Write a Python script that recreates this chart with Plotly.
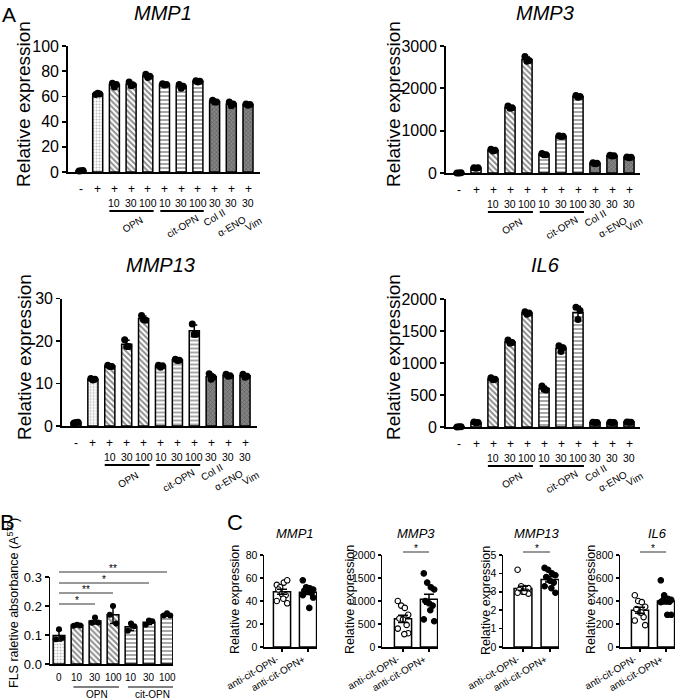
import numpy as np
import plotly.graph_objects as go

W, H = 685, 700
FONT = "Arial, Liberation Sans, sans-serif"

# ---------------- data ----------------
a_tnf = ['-', '+', '+', '+', '+', '+', '+', '+', '+', '+', '+']
a_dose = ['', '', '10', '30', '100', '10', '30', '100', '30', '30', '30']
a_groups = ['OPN', 'cit-OPN', 'Col II', 'α-ENO', 'Vim']
a_kind = ['ctrl', 'tnf', 'opn', 'opn', 'opn', 'cit', 'cit', 'cit', 'ag', 'ag', 'ag']

mmp1_reps = [[0.8, 1.0, 1.2], [61.5, 62.5, 62], [70.5, 67.5, 69.5], [71.5, 68.5, 69],
             [77.5, 75, 76], [70, 69, 69.5], [69.5, 66.5, 68], [72.5, 71.5, 72],
             [57, 55.5, 55.5], [55.5, 52.5, 54], [54, 53, 53.5]]
mmp3_reps = [[0, 2, 4], [125, 110, 125], [560, 520, 540], [1580, 1530, 1540],
             [2750, 2640, 2660], [460, 430, 430], [880, 860, 870], [1830, 1790, 1810],
             [240, 220, 230], [420, 400, 410], [380, 360, 370]]
mmp13_reps = [[0.7, 0.8, 0.9], [11.2, 10.8, 11.0], [14.3, 14.0, 14.0], [20.3, 18.7, 18.7],
              [26.0, 25.0, 24.9], [14.3, 13.8, 14.2], [15.7, 15.4, 15.5], [24.0, 21.6, 21.6],
              [12.3, 11.0, 11.5], [12.2, 11.7, 11.8], [12.2, 11.5, 11.7]]
il6_reps = [[0, 3, 5], [80, 65, 70], [770, 740, 745], [1360, 1310, 1320],
            [1800, 1760, 1780], [640, 590, 580], [1270, 1180, 1240], [1870, 1680, 1820],
            [75, 70, 70], [75, 70, 70], [80, 75, 75]]

b_dose = ['0', '10', '30', '100', '10', '30', '100']
b_kind = ['tnf', 'opn', 'opn', 'opn', 'cit', 'cit', 'cit']
b_reps = [[0.12, 0.085, 0.09], [0.135, 0.132, 0.133], [0.16, 0.142, 0.143],
          [0.20, 0.17, 0.14], [0.14, 0.115, 0.13], [0.15, 0.135, 0.147],
          [0.175, 0.167, 0.167]]
b_comparisons = [(0, 2, '*'), (0, 3, '**'), (0, 5, '*'), (0, 6, '**')]

c_groups = ['anti-cit-OPN-', 'anti-cit-OPN+']
c_genes = ['MMP1', 'MMP3', 'MMP13', 'IL6']
c_neg = [[54, 52, 56, 58, 50, 46, 45, 40, 38, 42],
         [1000, 900, 850, 700, 620, 600, 480, 400, 300, 280],
         [4.2, 3.3, 3.2, 3.2, 3.1, 3.0, 3.0, 2.95, 2.9, 3.0],
         [450, 400, 390, 350, 330, 300, 260, 230, 190, 300]]
c_pos = [[58, 52, 51, 50, 49, 48, 47, 45, 43, 34],
         [1600, 1400, 1300, 1250, 1000, 950, 900, 600, 560, 800],
         [4.3, 4.2, 4.0, 3.9, 3.8, 3.6, 3.5, 3.3, 2.95, 3.2],
         [580, 450, 420, 410, 400, 400, 395, 390, 280, 280]]
c_sig = ['', '*', '*', '*']

# ---------------- style ----------------
STYLE = {
    'ctrl': dict(shape='', bg='white', fg='black', size=4, sol=0.3),
    'tnf': dict(shape='.', bg='white', fg='#7a7a7a', size=3, sol=0.35),
    'opn': dict(shape='\\', bg='white', fg='#1a1a1a', size=4, sol=0.48),
    'cit': dict(shape='-', bg='white', fg='#1a1a1a', size=4, sol=0.38),
    'ag': dict(shape='x', bg='#858585', fg='#2a2a2a', size=3, sol=0.35),
}


def P(py):
    return 1 - py / H


def X(px):
    return px / W


def axn(i):
    return '' if i == 1 else str(i)


fig = go.Figure()
layout = {}
annotations = []
shapes = []


def ann(text, x, y, xref='paper', size=10, **kw):
    d = dict(text=text, x=x, y=y, xref=xref, yref='paper', showarrow=False,
             xanchor='center', yanchor='middle',
             font=dict(size=size, color='black', family=FONT))
    fnt = kw.pop('font', None)
    if fnt:
        d['font'].update(fnt)
    d.update(kw)
    annotations.append(d)


def hline(xref, x0, x1, py, width=1.5, color='black'):
    shapes.append(dict(type='line', xref=xref, yref='paper', x0=x0, x1=x1,
                       y0=P(py), y1=P(py), line=dict(color=color, width=width)))


def setup_axes(i, spec, n, yrange, dtick, tickfont, lw, ticklen=4, xticks=False,
               tickformat=None):
    left, right, first, last, y0, ytop = spec
    sp = (last - first) / (n - 1)
    xr = [-(first - left) / sp, (n - 1) + (right - last) / sp]
    layout['xaxis' + axn(i)] = dict(
        domain=[X(left), X(right)], range=xr, anchor='y' + axn(i), automargin=False,
        showline=True, linecolor='black', linewidth=lw, showgrid=False, zeroline=False,
        ticks='outside' if xticks else '', ticklen=ticklen, tickwidth=lw, tickcolor='black',
        tickvals=list(range(n)) if xticks else [], showticklabels=False, fixedrange=True)
    yd = dict(
        domain=[P(y0), P(ytop)], range=yrange, anchor='x' + axn(i), dtick=dtick,
        automargin=False,
        showline=True, linecolor='black', linewidth=lw, showgrid=False, zeroline=False,
        ticks='outside', ticklen=ticklen, tickwidth=lw, tickcolor='black',
        tickfont=dict(size=tickfont, color='black', family=FONT), fixedrange=True)
    if tickformat:
        yd['tickformat'] = tickformat
    layout['yaxis' + axn(i)] = yd


def pattern_bars(i, means, sds, kinds, width, lw):
    for kind in dict.fromkeys(kinds):
        st = STYLE[kind]
        idx = [k for k, kk in enumerate(kinds) if kk == kind]
        fig.add_trace(go.Bar(
            x=idx, y=[means[k] for k in idx], width=width,
            xaxis='x' + axn(i), yaxis='y' + axn(i),
            marker=dict(
                color=st['bg'],
                line=dict(color='black', width=lw),
                pattern=dict(shape=st['shape'], fgcolor=st['fg'], bgcolor=st['bg'],
                             size=st['size'], solidity=st['sol'], fillmode='overlay')),
            error_y=dict(type='data', array=[sds[k] for k in idx], color='black',
                         thickness=1.5, width=3),
            showlegend=False, hoverinfo='skip'))


def rep_points(i, reps, offsets, size):
    xs, ys = [], []
    for k, r in enumerate(reps):
        for j, v in enumerate(r):
            xs.append(k + offsets[j % len(offsets)])
            ys.append(v)
    fig.add_trace(go.Scatter(
        x=xs, y=ys, mode='markers', xaxis='x' + axn(i), yaxis='y' + axn(i),
        marker=dict(color='black', size=size), cliponaxis=False,
        showlegend=False, hoverinfo='skip'))


# ---------------- panel A ----------------
a_panels = [
    ('MMP1', mmp1_reps, (68, 260, 81, 248, 172, 46), [0, 100], 20, (163, 13), (23, 104)),
    ('MMP3', mmp3_reps, (446, 640, 459, 629, 173, 46), [0, 3000], 1000, (545, 13), (393, 104)),
    ('MMP13', mmp13_reps, (62, 257, 76, 245, 426, 298.5), [0, 30], 10, (160, 265), (24, 357)),
    ('IL6', il6_reps, (446, 640, 459, 629, 427, 299), [0, 2000], 500, (545, 265), (393, 357)),
]
group_pos = [(3.1, 53), (6.05, 54), (8.0, 46), (9.0, 54), (10.3, 52)]

for idx, (title, reps, spec, yr, dt, tpos, ytpos) in enumerate(a_panels):
    i = idx + 1
    xref = 'x' + axn(i)
    n = len(reps)
    setup_axes(i, spec, n, yr, dt, 16, 1.8, ticklen=4)
    means = [float(np.mean(r)) for r in reps]
    sds = [float(np.std(r, ddof=1)) for r in reps]
    pattern_bars(i, means, sds, a_kind, 0.6, 1.5)
    rep_points(i, reps, [-0.12, 0.0, 0.12], 7)
    y0 = spec[4]
    ann('TNF', -1.65, P(y0 + 17), xref=xref, size=11)
    for k, s in enumerate(a_tnf):
        ann(s, k, P(y0 + 17), xref=xref, size=12)
    for k, d in enumerate(a_dose):
        if d:
            ann(d, k, P(y0 + 31), xref=xref, size=10.5)
    ann('(ng/ml)', 11.7, P(y0 + 31), xref=xref, size=10)
    hline(xref, 1.7, 4.35, y0 + 39, width=1.8)
    hline(xref, 4.75, 7.35, y0 + 39, width=1.8)
    for g, (gx, gdy) in zip(a_groups, group_pos):
        ann(g, gx, P(y0 + gdy), xref=xref, size=10, textangle=-30)
    ann(title, X(tpos[0]), P(tpos[1]), size=20, font=dict(style='italic'))
    ann('Relative expression', X(ytpos[0]), P(ytpos[1]), size=19, textangle=-90)

ann('A', X(9), P(14), size=21)

# ---------------- panel B ----------------
b_spec = (50, 173, 59, 167, 664, 577)
setup_axes(5, b_spec, 7, [0, 0.3], 0.1, 13, 1.5, ticklen=4, tickformat='.1f')
b_means = [float(np.mean(r)) for r in b_reps]
b_sds = [float(np.std(r, ddof=1)) for r in b_reps]
pattern_bars(5, b_means, b_sds, b_kind, 0.65, 1.5)
rep_points(5, b_reps, [0.0, -0.18, 0.18], 6)
for k, d in enumerate(b_dose):
    ann(d, k, P(677), xref='x5', size=10)
ann('(ng/ml)', 7.6, P(677), xref='x5', size=10)
hline('x5', 0.8, 3.33, 687, width=1.2)
hline('x5', 3.83, 6.44, 687, width=1.2)
ann('OPN', 2.1, P(694), xref='x5', size=10)
ann('cit-OPN', 5.2, P(694), xref='x5', size=10)
sig_y = [604, 593, 583, 572]
for (a, b, s), py in zip(b_comparisons, sig_y):
    hline('x5', a, b, py, width=1, color='#333333')
    ann(s, (a + b) / 2, P(py - 4), xref='x5', size=10)
ann('FLS raletive absorbance (A<sup>570</sup>)', X(13), P(603), size=12.5, textangle=-90)
ann('B', X(8), P(522), size=22)

# ---------------- panel C ----------------
c_specs = [(264, 317, 282, 308, 647, 555), (382, 438, 403, 429, 647, 555),
           (503, 559, 523, 550, 647, 555), (620, 675, 640, 666, 647, 555)]
c_ranges = [([0, 80], 20), ([0, 2000], 500), ([0, 5], 1), ([0, 800], 200)]
c_title_x = [295, 416, 537, 657]
c_ytitle_x = [235, 350, 486, 591]
c_offsets = [-0.2, -0.07, 0.07, 0.2, -0.14, 0.0, 0.14, -0.2, 0.2, 0.05]

for j in range(4):
    i = 6 + j
    xref = 'x' + axn(i)
    setup_axes(i, c_specs[j], 2, c_ranges[j][0], c_ranges[j][1], 10.5, 1.5, ticklen=3,
               xticks=True)
    groups = [c_neg[j], c_pos[j]]
    means = [float(np.mean(g)) for g in groups]
    sems = [float(np.std(g, ddof=1) / np.sqrt(len(g))) for g in groups]
    fig.add_trace(go.Bar(
        x=[0, 1], y=means, width=0.66, xaxis=xref, yaxis='y' + axn(i),
        marker=dict(color='white', line=dict(color='black', width=1.5)),
        showlegend=False, hoverinfo='skip'))
    for k, g in enumerate(groups):
        fig.add_trace(go.Scatter(
            x=[k + c_offsets[m] for m in range(len(g))], y=g, mode='markers',
            xaxis=xref, yaxis='y' + axn(i), cliponaxis=False,
            marker=dict(size=5.5, color='white' if k == 0 else 'black',
                        line=dict(color='black', width=1.1)),
            showlegend=False, hoverinfo='skip'))
    fig.add_trace(go.Scatter(
        x=[0, 1], y=means, mode='markers', xaxis=xref, yaxis='y' + axn(i),
        marker=dict(size=1, color='rgba(0,0,0,0)'),
        error_y=dict(type='data', array=sems, color='black', thickness=1.5, width=5),
        cliponaxis=False, showlegend=False, hoverinfo='skip'))
    for k, g in enumerate(c_groups):
        ann(g, k + 0.05, P(651), xref=xref, size=10, textangle=-30,
            xanchor='right', yanchor='top')
    if c_sig[j]:
        hline(xref, 0, 1, 552, width=1, color='#333333')
        ann(c_sig[j], 0.5, P(548), xref=xref, size=10)
    ann(c_genes[j], X(c_title_x[j]), P(533), size=13, font=dict(style='italic'))
    ann('Relative expression', X(c_ytitle_x[j]), P(600), size=12.5, textangle=-90)

ann('C', X(235), P(522), size=22)

fig.update_layout(
    template='none',
    width=W, height=H, margin=dict(l=0, r=0, t=0, b=0, autoexpand=False),
    paper_bgcolor='white', plot_bgcolor='white',
    font=dict(family=FONT, color='black'),
    annotations=annotations, shapes=shapes, bargap=0, showlegend=False,
    **layout)

fig.write_html("out.html",
               config={'displayModeBar': False, 'staticPlot': True},
               post_script="document.body.style.margin='0px';"
                           "document.body.style.overflow='hidden';")
